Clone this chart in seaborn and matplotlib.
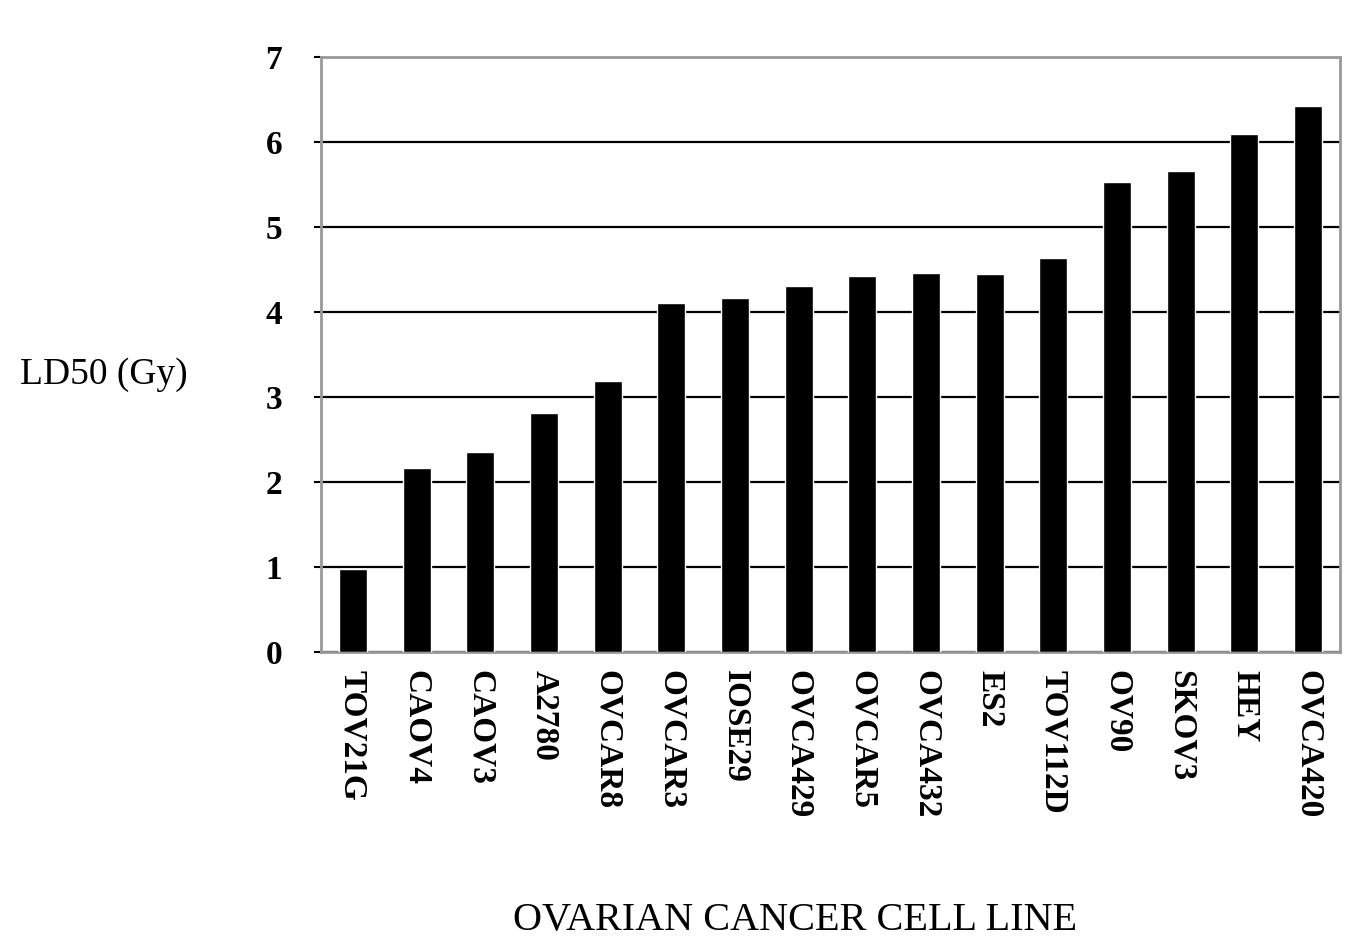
import pandas as pd
import numpy as np
import matplotlib.pyplot as plt
import seaborn as sns

# Data
cell_lines = ['TOV21G', 'CAOV4', 'CAOV3', 'A2780', 'OVCAR8', 'OVCAR3', 'IOSE29',
              'OVCA429', 'OVCAR5', 'OVCA432', 'ES2', 'TOV112D', 'OV90', 'SKOV3',
              'HEY', 'OVCA420']
ld50 = [0.97, 2.16, 2.35, 2.81, 3.19, 4.10, 4.16, 4.30, 4.42, 4.45, 4.44, 4.63,
        5.53, 5.66, 6.09, 6.42]
y_ticks = [0, 1, 2, 3, 4, 5, 6, 7]

df = pd.DataFrame({'cell': cell_lines, 'ld50': ld50})

sns.set_style('white')
plt.rcParams['font.family'] = ['Liberation Serif', 'DejaVu Serif']
plt.rcParams['text.color'] = 'black'
plt.rcParams['xtick.color'] = 'black'
plt.rcParams['ytick.color'] = 'black'

fig = plt.figure(figsize=(13.5, 9.41), dpi=100)
ax = fig.add_axes([0.2378, 0.3074, 0.7548, 0.6323])

sns.barplot(data=df, x='cell', y='ld50', color='black', width=0.44,
            saturation=1, ax=ax, zorder=3)

ax.set_ylim(0, 7)
ax.set_yticks(y_ticks)
ax.set_xlim(-0.5, len(cell_lines) - 0.5)
ax.yaxis.grid(True, color='black', linewidth=1.6, zorder=0)
ax.set_axisbelow(True)

for side in ['left', 'right', 'top', 'bottom']:
    ax.spines[side].set_visible(True)
    ax.spines[side].set_color('#999999')
    ax.spines[side].set_linewidth(2)

ax.tick_params(axis='y', length=5, width=1.5, color='black', pad=23,
               labelsize=24, left=True, labelcolor='black')
ax.tick_params(axis='x', length=0, pad=13, labelsize=24, labelcolor='black')
for lab in ax.get_yticklabels():
    lab.set_fontweight('bold')
for lab in ax.get_xticklabels():
    lab.set_fontweight('bold')
    lab.set_rotation(270)
    lab.set_va('top')
    lab.set_ha('center')

ax.set_xlabel('')
ax.set_ylabel('')

fig.text(0.077, 0.6015, 'LD50 (Gy)', fontsize=27, ha='center', va='center')
fig.text(0.589, 0.022, 'OVARIAN CANCER CELL LINE', fontsize=29,
         ha='center', va='center')

fig.savefig('out.png', dpi=100, facecolor='white')
